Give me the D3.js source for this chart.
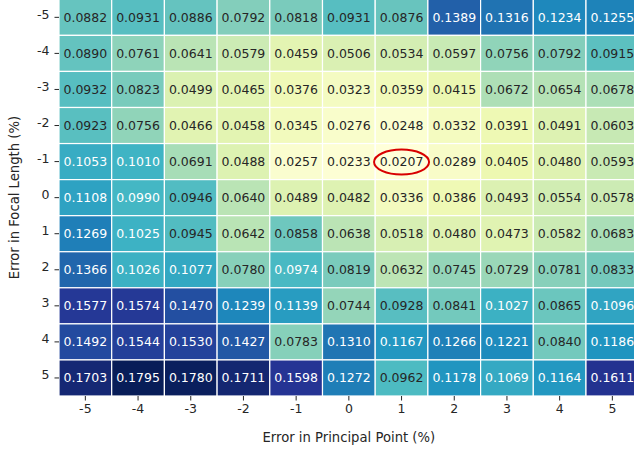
<!DOCTYPE html>
<html>
<head>
<meta charset="utf-8">
<script src="https://cdn.jsdelivr.net/npm/d3@7"></script>
<style>
  html, body { margin: 0; padding: 0; background: #fff; overflow: hidden; }
  svg { display: block; font-family: "DejaVu Sans", sans-serif; }
</style>
</head>
<body>
<svg id="chart" width="634" height="449"></svg>
<script>
// Axis categories (percent error)
const principalPoint = [-5, -4, -3, -2, -1, 0, 1, 2, 3, 4, 5];
const focalLength = [-5, -4, -3, -2, -1, 0, 1, 2, 3, 4, 5];

// Reprojection error, one row per focal-length error
const row_m5 = [0.0882, 0.0931, 0.0886, 0.0792, 0.0818, 0.0931, 0.0876, 0.1389, 0.1316, 0.1234, 0.1255];
const row_m4 = [0.0890, 0.0761, 0.0641, 0.0579, 0.0459, 0.0506, 0.0534, 0.0597, 0.0756, 0.0792, 0.0915];
const row_m3 = [0.0932, 0.0823, 0.0499, 0.0465, 0.0376, 0.0323, 0.0359, 0.0415, 0.0672, 0.0654, 0.0678];
const row_m2 = [0.0923, 0.0756, 0.0466, 0.0458, 0.0345, 0.0276, 0.0248, 0.0332, 0.0391, 0.0491, 0.0603];
const row_m1 = [0.1053, 0.1010, 0.0691, 0.0488, 0.0257, 0.0233, 0.0207, 0.0289, 0.0405, 0.0480, 0.0593];
const row_0  = [0.1108, 0.0990, 0.0946, 0.0640, 0.0489, 0.0482, 0.0336, 0.0386, 0.0493, 0.0554, 0.0578];
const row_p1 = [0.1269, 0.1025, 0.0945, 0.0642, 0.0858, 0.0638, 0.0518, 0.0480, 0.0473, 0.0582, 0.0683];
const row_p2 = [0.1366, 0.1026, 0.1077, 0.0780, 0.0974, 0.0819, 0.0632, 0.0745, 0.0729, 0.0781, 0.0833];
const row_p3 = [0.1577, 0.1574, 0.1470, 0.1239, 0.1139, 0.0744, 0.0928, 0.0841, 0.1027, 0.0865, 0.1096];
const row_p4 = [0.1492, 0.1544, 0.1530, 0.1427, 0.0783, 0.1310, 0.1167, 0.1266, 0.1221, 0.0840, 0.1186];
const row_p5 = [0.1703, 0.1795, 0.1780, 0.1711, 0.1598, 0.1272, 0.0962, 0.1178, 0.1069, 0.1164, 0.1611];
const rows = [row_m5, row_m4, row_m3, row_m2, row_m1, row_0, row_p1, row_p2, row_p3, row_p4, row_p5];

// Highlighted optimum cell
const best = { pp: 1, fl: -1 };

// YlGnBu (ColorBrewer 9-class)
const ylgnbu = ["#ffffd9", "#edf8b1", "#c7e9b4", "#7fcdbb", "#41b6c4",
                "#1d91c0", "#225ea8", "#253494", "#081d58"];

const cells = [];
rows.forEach((r, i) => r.forEach((v, j) => cells.push({ fl: focalLength[i], pp: principalPoint[j], v })));

const vmin = d3.min(cells, d => d.v), vmax = d3.max(cells, d => d.v);
const color = d3.scaleLinear()
  .domain(d3.range(ylgnbu.length).map(k => vmin + (vmax - vmin) * k / (ylgnbu.length - 1)))
  .range(ylgnbu)
  .interpolate(d3.interpolateRgb);

// Annotation colour from background luminance
function luminance(c) {
  const rgb = d3.rgb(c);
  const ch = [rgb.r, rgb.g, rgb.b].map(x => {
    x /= 255;
    return x <= 0.03928 ? x / 12.92 : Math.pow((x + 0.055) / 1.055, 2.4);
  });
  return 0.2126 * ch[0] + 0.7152 * ch[1] + 0.0722 * ch[2];
}

const svg = d3.select("#chart");
const plotLeft = 59, plotRight = 638.7, plotTop = -0.7, plotBottom = 396;

const x = d3.scaleBand().domain(principalPoint).range([plotLeft, plotRight]).padding(0);
const y = d3.scaleBand().domain(focalLength).range([plotTop, plotBottom]).padding(0);

const g = svg.append("g");

g.selectAll("rect.cell")
  .data(cells)
  .join("rect")
  .attr("class", "cell")
  .attr("x", d => x(d.pp))
  .attr("y", d => y(d.fl))
  .attr("width", x.bandwidth())
  .attr("height", y.bandwidth())
  .attr("fill", d => color(d.v))
  .attr("stroke", "#ffffff")
  .attr("stroke-width", 1.2);

g.selectAll("text.val")
  .data(cells)
  .join("text")
  .attr("class", "val")
  .attr("x", d => x(d.pp) + x.bandwidth() / 2)
  .attr("y", d => y(d.fl) + y.bandwidth() / 2)
  .attr("dy", "0.36em")
  .attr("text-anchor", "middle")
  .attr("font-size", 12.5)
  .attr("fill", d => luminance(color(d.v)) > 0.408 ? "#262626" : "#ffffff")
  .text(d => d.v.toFixed(4));

// Axes
const xAxis = d3.axisBottom(x).tickSize(4.5).tickPadding(4);
const yAxis = d3.axisLeft(y).tickSize(4.5).tickPadding(5);

const gx = svg.append("g").attr("transform", `translate(0,${plotBottom})`).call(xAxis);
gx.select(".domain").remove();
gx.selectAll(".tick line").attr("stroke", "#262626").attr("stroke-width", 1);
gx.selectAll(".tick text").attr("font-size", 12.5).attr("fill", "#262626")
  .attr("font-family", "DejaVu Sans, sans-serif");

const gy = svg.append("g").attr("transform", `translate(${plotLeft},0)`).call(yAxis);
gy.select(".domain").remove();
gy.selectAll(".tick line").attr("stroke", "#262626").attr("stroke-width", 1);
gy.selectAll(".tick text").attr("font-size", 12.5).attr("fill", "#262626")
  .attr("dy", "0.1em")
  .attr("font-family", "DejaVu Sans, sans-serif");

// Axis titles
svg.append("text")
  .attr("x", (plotLeft + plotRight) / 2)
  .attr("y", 441.5)
  .attr("text-anchor", "middle")
  .attr("font-size", 13.2)
  .attr("fill", "#262626")
  .text("Error in Principal Point (%)");

svg.append("text")
  .attr("transform", `translate(19,${(plotTop + plotBottom) / 2}) rotate(-90)`)
  .attr("text-anchor", "middle")
  .attr("font-size", 13.2)
  .attr("fill", "#262626")
  .text("Error in Focal Length (%)");

// Mark the best cell
svg.append("ellipse")
  .attr("cx", x(best.pp) + x.bandwidth() / 2)
  .attr("cy", y(best.fl) + y.bandwidth() / 2 + 0.5)
  .attr("rx", 27.5)
  .attr("ry", 12.5)
  .attr("fill", "none")
  .attr("stroke", "#d80000")
  .attr("stroke-width", 2);
</script>
</body>
</html>
